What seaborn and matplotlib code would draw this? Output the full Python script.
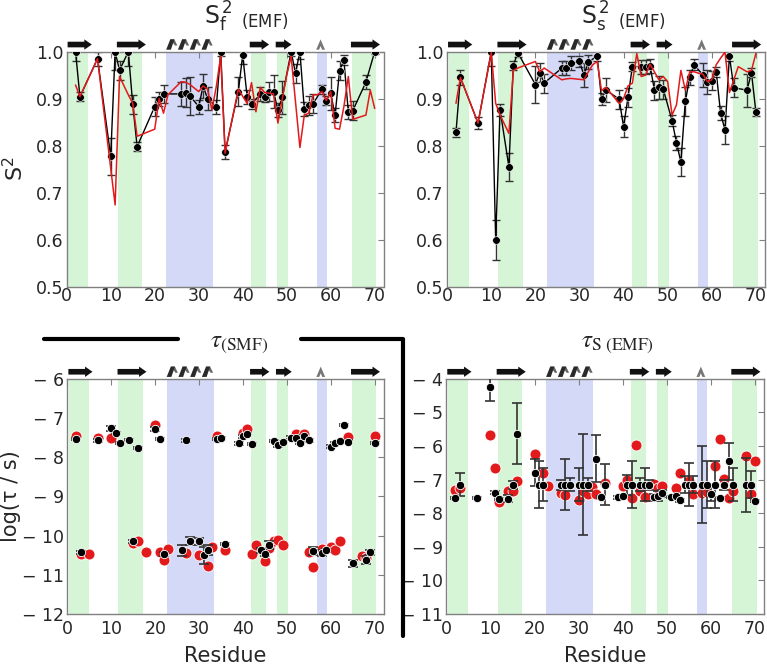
import matplotlib
matplotlib.use('Agg')
import matplotlib.pyplot as plt
import matplotlib.transforms as mtransforms
from matplotlib.patches import Polygon
from matplotlib.lines import Line2D
from matplotlib.ticker import FuncFormatter
import seaborn as sns

# secondary structure (residue ranges)
strand_spans = [(0.4, 4.9), (11.6, 17.2), (41.8, 45.2), (47.7, 50.3), (64.8, 70.4)]
helix_spans = [(22.6, 33.3)]
turn_spans = [(56.8, 59.2)]

# S2 fast (EMF) - experiment
sf_res = [2, 3, 7, 10, 11, 12, 14, 15, 16, 20, 21, 22, 26, 27, 28, 30, 31, 32, 34, 35,
          36, 39, 40, 41, 42, 44, 45, 46, 47, 48, 49, 51, 52, 53, 54, 55, 56, 58, 59, 60,
          61, 62, 63, 64, 65, 68, 70]
sf_val = [1.0, 0.904, 0.985, 0.777, 1.0, 0.96, 1.0, 0.888, 0.798, 0.883,
          0.90, 0.91, 0.91, 0.913, 0.906, 0.883, 0.927, 0.90, 0.883, 1.0,
          0.787, 0.915, 0.993, 0.904, 0.889, 0.909, 0.903, 0.915, 0.915, 0.876,
          0.903, 1.0, 0.954, 1.0, 0.877, 0.886, 0.889, 0.92, 0.896, 0.911,
          0.865, 0.959, 0.982, 0.872, 0.874, 0.935, 1.0]
sf_err = [0.02, 0.01, 0.015, 0.04, 0.04, 0.02, 0.03, 0.02, 0.01, 0.02,
          0.015, 0.02, 0.025, 0.03, 0.04, 0.015, 0.025, 0.025, 0.015, 0.01,
          0.015, 0.03, 0.02, 0.015, 0.01, 0.015, 0.01, 0.02, 0.035, 0.015,
          0.035, 0.01, 0.02, 0.015, 0.015, 0.02, 0.02, 0.01, 0.01, 0.035,
          0.015, 0.02, 0.01, 0.015, 0.02, 0.015, 0.005]
# S2 fast - simulation
sf_md_res = [2, 3, 7, 11, 12, 14, 15, 16, 20, 21, 22, 23, 26, 27, 28, 30, 31, 32, 33, 34,
             35, 36, 39, 40, 41, 42, 43, 44, 45, 47, 48, 49, 50, 51, 53, 54, 55, 56, 57, 58,
             59, 60, 61, 62, 63, 64, 65, 68, 69, 70]
sf_md_val = [0.929, 0.904, 0.985, 0.674, 0.947, 0.908, 0.89, 0.82, 0.835, 0.90,
             0.869, 0.908, 0.936, 0.935, 0.93, 0.915, 0.927, 0.92, 0.876, 0.926,
             0.99, 0.784, 0.92, 0.905, 0.89, 0.934, 0.872, 0.924, 0.913, 0.91,
             0.848, 0.90, 0.95, 0.99, 0.796, 0.865, 0.869, 0.908, 0.908, 0.915,
             0.896, 0.915, 0.837, 0.835, 0.883, 0.947, 0.856, 0.865, 0.918, 0.879]

# S2 slow (EMF) - experiment
ss_res = [2, 3, 7, 10, 11, 12, 14, 15, 16, 20, 21, 22, 26, 27, 28, 30, 31, 32, 34, 35,
          36, 39, 40, 41, 42, 44, 45, 46, 47, 48, 49, 51, 52, 53, 54, 55, 56, 58, 59, 60,
          61, 62, 63, 64, 65, 68, 69, 70]
ss_val = [0.828, 0.945, 0.848, 1.0, 0.599, 0.876, 0.755, 0.97, 0.998, 0.93,
          0.955, 0.933, 0.965, 0.965, 0.975, 0.979, 0.95, 0.977, 0.991, 0.899,
          0.918, 0.899, 0.84, 0.903, 0.968, 0.968, 0.968, 0.97, 0.918, 0.924,
          0.92, 0.853, 0.806, 0.765, 0.894, 0.945, 0.972, 0.95, 0.935, 0.938,
          0.957, 0.869, 0.833, 0.991, 0.923, 0.918, 0.955, 0.872]
ss_err = [0.01, 0.015, 0.012, 0.03, 0.042, 0.012, 0.03, 0.01, 0.01, 0.04,
          0.02, 0.02, 0.015, 0.015, 0.015, 0.012, 0.025, 0.015, 0.01, 0.012,
          0.025, 0.02, 0.022, 0.02, 0.01, 0.015, 0.015, 0.015, 0.02, 0.025,
          0.02, 0.012, 0.015, 0.03, 0.03, 0.015, 0.012, 0.025, 0.025, 0.02,
          0.01, 0.015, 0.03, 0.01, 0.02, 0.035, 0.01, 0.008]
# S2 slow - simulation
ss_md_res = [2, 3, 7, 10, 11, 12, 14, 15, 16, 20, 21, 22, 26, 27, 28, 31, 32, 33, 34, 35,
             36, 39, 40, 41, 42, 43, 44, 45, 46, 47, 48, 49, 50, 51, 52, 53, 54, 55, 56, 57,
             58, 59, 60, 61, 62, 63, 64, 65, 66, 68, 69, 70]
ss_md_val = [0.89, 0.945, 0.848, 0.998, 0.89, 0.865, 0.826, 0.96, 0.965, 0.979,
             0.957, 0.965, 0.94, 0.942, 0.943, 0.94, 0.957, 0.972, 0.979, 0.917,
             0.924, 0.89, 0.90, 0.927, 0.933, 0.996, 0.947, 0.95, 0.973, 0.957,
             0.94, 0.947, 0.936, 0.865, 0.887, 0.96, 0.918, 0.957, 0.957, 0.954,
             0.952, 0.936, 0.94, 0.972, 0.986, 0.999, 0.913, 0.94, 0.968, 0.957,
             0.96, 0.996]

# log(tau) SMF - experiment
tau_res = [2, 3, 7, 10, 11, 12, 14, 15, 16, 20, 21, 22, 26, 27, 28, 30, 31, 32, 34, 35,
           36, 39, 40, 41, 42, 44, 45, 46, 47, 48, 49, 51, 52, 53, 54, 55, 56, 58, 59, 60,
           61, 62, 63, 64, 65, 68, 69, 70]
tau_val = [-7.53, -10.43, -7.57, -7.26, -7.39, -7.63, -7.56, -10.14, -7.77, -7.28,
           -7.54, -10.47, -10.38, -7.57, -10.14, -10.15, -10.50, -10.37, -7.54, -7.51,
           -10.22, -7.65, -7.47, -7.40, -7.66, -10.38, -10.48, -10.24, -7.59, -7.70,
           -7.62, -7.50, -7.50, -7.63, -7.46, -7.57, -10.39, -10.45, -10.37, -7.73,
           -7.64, -7.58, -7.17, -7.60, -10.71, -10.63, -10.43, -7.64]
tau_err = [0.03, 0.04, 0.03, 0.06, 0.03, 0.03, 0.03, 0.04, 0.03, 0.04,
           0.03, 0.05, 0.13, 0.04, 0.1, 0.08, 0.22, 0.12, 0.03, 0.03,
           0.03, 0.03, 0.03, 0.03, 0.03, 0.07, 0.05, 0.1, 0.03, 0.03,
           0.03, 0.03, 0.03, 0.03, 0.03, 0.03, 0.1, 0.07, 0.04, 0.03,
           0.03, 0.03, 0.03, 0.03, 0.08, 0.1, 0.06, 0.03]
# log(tau) - simulation
tau_md_res = [2, 3, 5, 7, 10, 15, 16, 18, 20, 21, 22, 23, 27, 30, 32, 33, 34, 36, 40, 41,
              42, 43, 45, 46, 47, 48, 49, 52, 54, 55, 56, 58, 60, 61, 62, 64, 67, 68, 70]
tau_md_val = [-7.47, -10.47, -10.48, -7.51, -7.51, -10.18, -10.15, -10.43, -7.17, -10.43,
              -10.62, -10.35, -10.45, -10.49, -10.77, -10.28, -7.46, -10.38, -7.39, -7.28,
              -10.47, -10.24, -10.64, -10.31, -10.14, -10.11, -10.24, -7.41, -7.41, -10.41,
              -10.79, -10.35, -10.28, -10.38, -10.14, -7.49, -10.52, -10.58, -7.47]

# log(tau_s) EMF - experiment
ts_res = tau_res
ts_val = [-7.54, -7.15, -7.56, -4.25, -7.39, -7.58, -7.57, -7.15, -5.63, -6.79,
          -7.15, -7.15, -7.15, -7.15, -7.15, -7.15, -7.15, -7.15, -6.38, -7.51,
          -7.15, -7.53, -7.48, -7.15, -7.15, -7.15, -7.15, -7.15, -7.53, -7.48,
          -7.41, -7.51, -7.48, -7.62, -7.15, -7.15, -7.15, -7.15, -7.15, -7.43,
          -7.15, -7.54, -7.15, -6.46, -7.15, -7.15, -7.15, -7.65]
ts_err = [0.03, 0.35, 0.03, 0.42, 0.05, 0.03, 0.1, 0.12, 0.9, 0.4,
          0.7, 0.5, 0.15, 0.75, 0.2, 0.5, 1.5, 0.2, 0.7, 0.03,
          0.6, 0.05, 0.05, 0.3, 0.7, 0.2, 0.5, 0.15, 0.1, 0.15,
          0.1, 0.03, 0.03, 0.05, 0.25, 0.65, 0.25, 1.15, 0.7, 0.2,
          0.7, 0.03, 0.15, 0.55, 0.5, 0.8, 0.4, 0.03]
# log(tau_s) - simulation
ts_md_res = [2, 3, 10, 11, 12, 14, 15, 16, 20, 22, 23, 26, 27, 30, 31, 32, 33, 34, 36, 40,
             41, 42, 43, 44, 45, 47, 48, 49, 52, 53, 55, 56, 58, 59, 61, 62, 63, 64, 65, 68,
             69, 70]
ts_md_val = [-7.31, -7.26, -5.67, -6.64, -7.68, -7.34, -7.34, -7.04, -6.24, -6.81,
             -7.19, -7.41, -7.45, -7.62, -7.35, -7.44, -7.23, -7.43, -7.09, -7.18,
             -7.01, -7.56, -5.98, -7.34, -7.51, -7.14, -7.26, -7.19, -7.26, -6.81,
             -7.04, -7.43, -7.41, -7.36, -6.59, -5.80, -6.98, -7.54, -7.34, -6.31,
             -7.43, -6.46]

GREEN = '#d6f5d6'
BLUE = '#d3d9f7'
RED = '#e31a1c'
SPINE = '#808080'
EBAR = '#333333'

sns.set_style('white')
plt.rcParams['font.family'] = ['DejaVu Sans']


def draw_structure(ax):
    for a, b in strand_spans:
        ax.axvspan(a, b, color=GREEN, lw=0, zorder=0)
    for a, b in helix_spans + turn_spans:
        ax.axvspan(a, b, color=BLUE, lw=0, zorder=0)

    tr = mtransforms.blended_transform_factory(ax.transData, ax.transAxes)
    yc, sh, hh = 1.030, 0.012, 0.022
    for a, b in strand_spans:
        x0, x1 = a - 0.2, b + 0.8
        xh = x1 - 1.7
        pts = [(x0, yc - sh), (xh, yc - sh), (xh, yc - hh), (x1, yc),
               (xh, yc + hh), (xh, yc + sh), (x0, yc + sh)]
        ax.add_patch(Polygon(pts, closed=True, transform=tr, color='#111111',
                             clip_on=False, lw=0))
    for a, b in helix_spans:
        n = 4
        w = (b - a) / n
        for i in range(n):
            x = a + i * w
            # back strand (lighter), then front strand (dark)
            back = [(x + 0.35 * w, yc + hh), (x + 0.7 * w, yc + hh),
                    (x + 0.95 * w, yc - 0.2 * hh), (x + 0.75 * w, yc - 0.2 * hh)]
            ax.add_patch(Polygon(back, closed=True, transform=tr, color='#666666',
                                 clip_on=False, lw=0))
            front = [(x, yc - hh), (x + 0.35 * w, yc + hh), (x + 0.7 * w, yc + hh),
                     (x + 0.4 * w, yc - hh)]
            ax.add_patch(Polygon(front, closed=True, transform=tr, color='#2a2a2a',
                                 clip_on=False, lw=0))
    for a, b in turn_spans:
        m = (a + b) / 2 - 0.3
        pts = [(m - 1.0, yc - hh), (m, yc + hh), (m + 1.0, yc - hh),
               (m + 0.35, yc - hh), (m, yc - 0.3 * hh), (m - 0.35, yc - hh)]
        ax.add_patch(Polygon(pts, closed=True, transform=tr, color='#777777',
                             clip_on=False, lw=0))


def style_axis(ax, ylim, yticks, xpad, minus=False):
    ax.set_xlim(0, 72)
    ax.set_ylim(*ylim)
    ax.set_xticks(range(0, 71, 10))
    ax.set_yticks(yticks)
    for s in ax.spines.values():
        s.set_color(SPINE)
        s.set_linewidth(1.0)
        s.set_visible(True)
    ax.tick_params(direction='in', length=4, width=0.8, color=SPINE,
                   top=True, right=True, labelsize=12.5)
    ax.tick_params(axis='x', pad=xpad)
    ax.tick_params(axis='y', pad=2.5)
    if minus:
        ax.yaxis.set_major_formatter(FuncFormatter(lambda v, p: '\u2212 %d' % abs(v)))
    else:
        ax.yaxis.set_major_formatter(FuncFormatter(lambda v, p: '%.1f' % v))
    ax.set_xlabel('')
    ax.set_ylabel('')


fig = plt.figure(figsize=(7.67, 6.70), dpi=100)
ax1 = fig.add_axes([0.087, 0.572, 0.413, 0.351])
ax2 = fig.add_axes([0.583, 0.572, 0.414, 0.351])
ax3 = fig.add_axes([0.088, 0.0836, 0.412, 0.351])
ax4 = fig.add_axes([0.582, 0.0836, 0.414, 0.351])

# top panels: order parameters
for ax, r, v, e, mr, mv in [(ax1, sf_res, sf_val, sf_err, sf_md_res, sf_md_val),
                            (ax2, ss_res, ss_val, ss_err, ss_md_res, ss_md_val)]:
    draw_structure(ax)
    ax.errorbar(r, v, yerr=e, fmt='none', ecolor=EBAR, elinewidth=1.0,
                capsize=3, capthick=1.0, zorder=2)
    sns.lineplot(x=r, y=v, ax=ax, color='black', lw=1.0, marker='o', markersize=5.5,
                 markeredgecolor='white', markeredgewidth=0.4, estimator=None, zorder=3)
    sns.lineplot(x=mr, y=mv, ax=ax, color=RED, lw=1.1, estimator=None, zorder=4)
    style_axis(ax, (0.5, 1.0), [0.5, 0.6, 0.7, 0.8, 0.9, 1.0], xpad=0.5)

# bottom panels: correlation times
for ax, r, v, e, mr, mv, yl, yt in [
        (ax3, tau_res, tau_val, tau_err, tau_md_res, tau_md_val, (-12, -6), range(-12, -5)),
        (ax4, ts_res, ts_val, ts_err, ts_md_res, ts_md_val, (-11, -4), range(-11, -3))]:
    draw_structure(ax)
    sns.scatterplot(x=mr, y=mv, ax=ax, color=RED, s=62, edgecolor='white',
                    linewidth=0.6, zorder=2)
    ax.errorbar(r, v, yerr=e, fmt='none', ecolor=EBAR, elinewidth=1.2,
                capsize=3.5, capthick=1.2, zorder=3)
    sns.scatterplot(x=r, y=v, ax=ax, color='black', s=36, edgecolor='white',
                    linewidth=0.6, zorder=4)
    style_axis(ax, yl, list(yt), xpad=4, minus=True)
    ax.set_xlabel('Residue', fontsize=15, labelpad=6)

ax1.set_ylabel('S$^2$', fontsize=16)
ax1.yaxis.set_label_coords(-0.125, 0.5)
ax3.set_ylabel('log(\u03c4 / s)', fontsize=15)
ax3.yaxis.set_label_coords(-0.148, 0.5)

# panel titles
ax1.text(0.566, 1.114, r'$\mathrm{S_f^{\,2}}\ _{\mathrm{(EMF)}}$', transform=ax1.transAxes,
         ha='center', va='baseline', fontsize=17)
ax2.text(0.556, 1.114, r'$\mathrm{S_s^{\,2}}\ _{\mathrm{(EMF)}}$', transform=ax2.transAxes,
         ha='center', va='baseline', fontsize=17)
ax3.text(0.542, 1.137, r'$\tau_{\mathrm{(SMF)}}$', transform=ax3.transAxes,
         ha='center', va='baseline', fontsize=18, math_fontfamily='stix')
ax4.text(0.539, 1.137, r'$\tau_{\mathrm{S\ (EMF)}}$', transform=ax4.transAxes,
         ha='center', va='baseline', fontsize=18, math_fontfamily='stix')

# bracket around the SMF panel
W, H = 767.0, 670.0
fig.add_artist(Line2D([44 / W, 178 / W], [1 - 339 / H, 1 - 339 / H], color='black', lw=3))
fig.add_artist(Line2D([301 / W, 403 / W, 403 / W], [1 - 339 / H, 1 - 339 / H, 1 - 636 / H],
                      color='black', lw=3))

fig.savefig('out.png', dpi=100)
